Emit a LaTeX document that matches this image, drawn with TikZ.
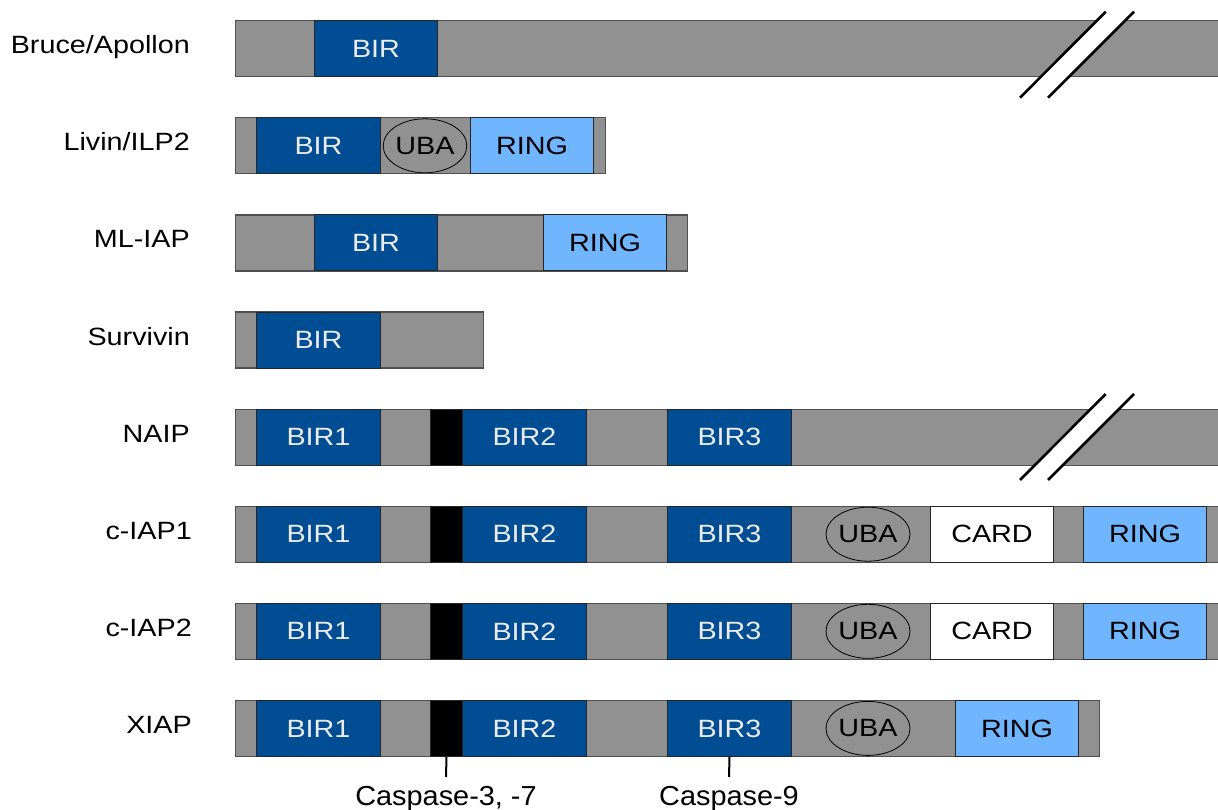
\documentclass[tikz,border=0pt]{standalone}
\usepackage{fontspec}
\setmainfont{Liberation Sans}[FakeStretch=1.15]
\newfontfamily\sitefont{Liberation Sans}[FakeStretch=1.05]
\usepackage{tikz}
\usetikzlibrary{shapes.geometric}
\usepackage{xcolor}
\definecolor{iapgray}{RGB}{145,145,145}
\definecolor{iapedge}{RGB}{80,80,80}
\definecolor{birblue}{RGB}{0,77,147}
\definecolor{birtext}{RGB}{235,235,235}
\definecolor{ringblue}{RGB}{112,182,255}
\tikzstyle{protein} = [rectangle, minimum height=56, inner sep=0, anchor=west, draw=iapedge, fill=iapgray, line width=1.2]
\tikzstyle{domainbox} = [rectangle, minimum height=56, inner sep=0, anchor=west, draw=black!85, line width=1]
\tikzstyle{bir} = [domainbox, minimum width=124, fill=birblue, text=birtext]
\tikzstyle{ring} = [domainbox, minimum width=123, fill=ringblue]
\tikzstyle{card} = [domainbox, minimum width=123, fill=white]
\tikzstyle{linker} = [domainbox, minimum width=32, fill=black]
\tikzstyle{uba} = [ellipse, minimum width=84, minimum height=54, inner sep=0, draw=black, fill=iapgray, line width=0.8]
\tikzstyle{protname} = [anchor=base east, inner sep=0]
\tikzstyle{site} = [anchor=north, inner xsep=0, inner ysep=9, font=\sitefont\fontsize{27.5}{32}\selectfont]
\tikzstyle{breakline} = [line width=2.6, black]

\begin{document}
\begin{tikzpicture}[x=1pt, y=-1pt, font=\fontsize{25}{30}\selectfont]
\useasboundingbox (0,0) rectangle (1218,809);
\clip (0,0) rectangle (1218,809);

% Protein names
\node[protname] (n-bruce) at (190,53.7) {Bruce/Apollon};
\node[protname] (n-livin) at (190,150.8) {Livin/ILP2};
\node[protname] (n-mliap) at (190,247.9) {ML-IAP};
\node[protname] (n-survivin) at (190,345) {Survivin};
\node[protname] (n-naip) at (190,442.1) {NAIP};
\node[protname] (n-ciap1) at (192,539.2) {c-IAP1};
\node[protname] (n-ciap2) at (192,636.3) {c-IAP2};
\node[protname] (n-xiap) at (192,733.4) {XIAP};

% Bruce/Apollon
\node[protein, minimum width=1010] (bruce) at (235,48.7) {};
\node[bir, minimum width=123] (bruce-bir) at (314,48.7) {BIR};

% Livin/ILP2
\node[protein, minimum width=370] (livin) at (235,145.8) {};
\node[bir] (livin-bir) at (256,145.8) {BIR};
\node[uba, minimum width=82] (livin-uba) at (425,145.8) {UBA};
\node[ring] (livin-ring) at (470,145.8) {RING};

% ML-IAP
\node[protein, minimum width=452] (mliap) at (235,242.9) {};
\node[bir, minimum width=123] (mliap-bir) at (314,242.9) {BIR};
\node[ring] (mliap-ring) at (543,242.9) {RING};

% Survivin
\node[protein, minimum width=248] (survivin) at (235,340) {};
\node[bir] (survivin-bir) at (256,340) {BIR};

% NAIP
\node[protein, minimum width=1010] (naip) at (235,437.1) {};
\node[bir] (naip-bir1) at (256,437.1) {BIR1};
\node[linker] (naip-link) at (430,437.1) {};
\node[bir] (naip-bir2) at (462,437.1) {BIR2};
\node[bir] (naip-bir3) at (667,437.1) {BIR3};

% c-IAP1
\node[protein, minimum width=1010] (ciap1) at (235,534.2) {};
\node[bir] (ciap1-bir1) at (256,534.2) {BIR1};
\node[linker] (ciap1-link) at (430,534.2) {};
\node[bir] (ciap1-bir2) at (462,534.2) {BIR2};
\node[bir] (ciap1-bir3) at (667,534.2) {BIR3};
\node[uba] (ciap1-uba) at (868,534.2) {UBA};
\node[card] (ciap1-card) at (930,534.2) {CARD};
\node[ring] (ciap1-ring) at (1083,534.2) {RING};

% c-IAP2
\node[protein, minimum width=1010] (ciap2) at (235,631.3) {};
\node[bir] (ciap2-bir1) at (256,631.3) {BIR1};
\node[linker] (ciap2-link) at (430,631.3) {};
\node[bir] (ciap2-bir2) at (462,631.3) {BIR2};
\node[bir] (ciap2-bir3) at (667,631.3) {BIR3};
\node[uba] (ciap2-uba) at (868,631.3) {UBA};
\node[card] (ciap2-card) at (930,631.3) {CARD};
\node[ring] (ciap2-ring) at (1083,631.3) {RING};

% XIAP
\node[protein, minimum width=864] (xiap) at (235,728.4) {};
\node[bir] (xiap-bir1) at (256,728.4) {BIR1};
\node[linker] (xiap-link) at (430,728.4) {};
\node[bir] (xiap-bir2) at (462,728.4) {BIR2};
\node[bir] (xiap-bir3) at (667,728.4) {BIR3};
\node[uba] (xiap-uba) at (868,728.4) {UBA};
\node[ring] (xiap-ring) at (955,728.4) {RING};

% Break marks
\coordinate (cut1a) at (1020,97.7);
\coordinate (cut1b) at (1105.7,11.7);
\coordinate (cut1c) at (1048,97.7);
\coordinate (cut1d) at (1134,11.7);
\fill[white] (cut1a) -- (cut1b) -- (cut1d) -- (cut1c) -- cycle;
\draw[breakline] (cut1a) -- (cut1b);
\draw[breakline] (cut1c) -- (cut1d);
\coordinate (cut2a) at (1020,480);
\coordinate (cut2b) at (1105.7,394);
\coordinate (cut2c) at (1048,480);
\coordinate (cut2d) at (1134,394);
\fill[white] (cut2a) -- (cut2b) -- (cut2d) -- (cut2c) -- cycle;
\draw[breakline] (cut2a) -- (cut2b);
\draw[breakline] (cut2c) -- (cut2d);

% Cleavage sites
\node[site] (casp37) at (446,777) {Caspase-3, -7};
\node[site] (casp9) at (729,777) {Caspase-9};
\draw[line width=2] (xiap-link.south) -- (casp37.north);
\draw[line width=2] (xiap-bir3.south) -- (casp9.north);
\end{tikzpicture}
\end{document}
